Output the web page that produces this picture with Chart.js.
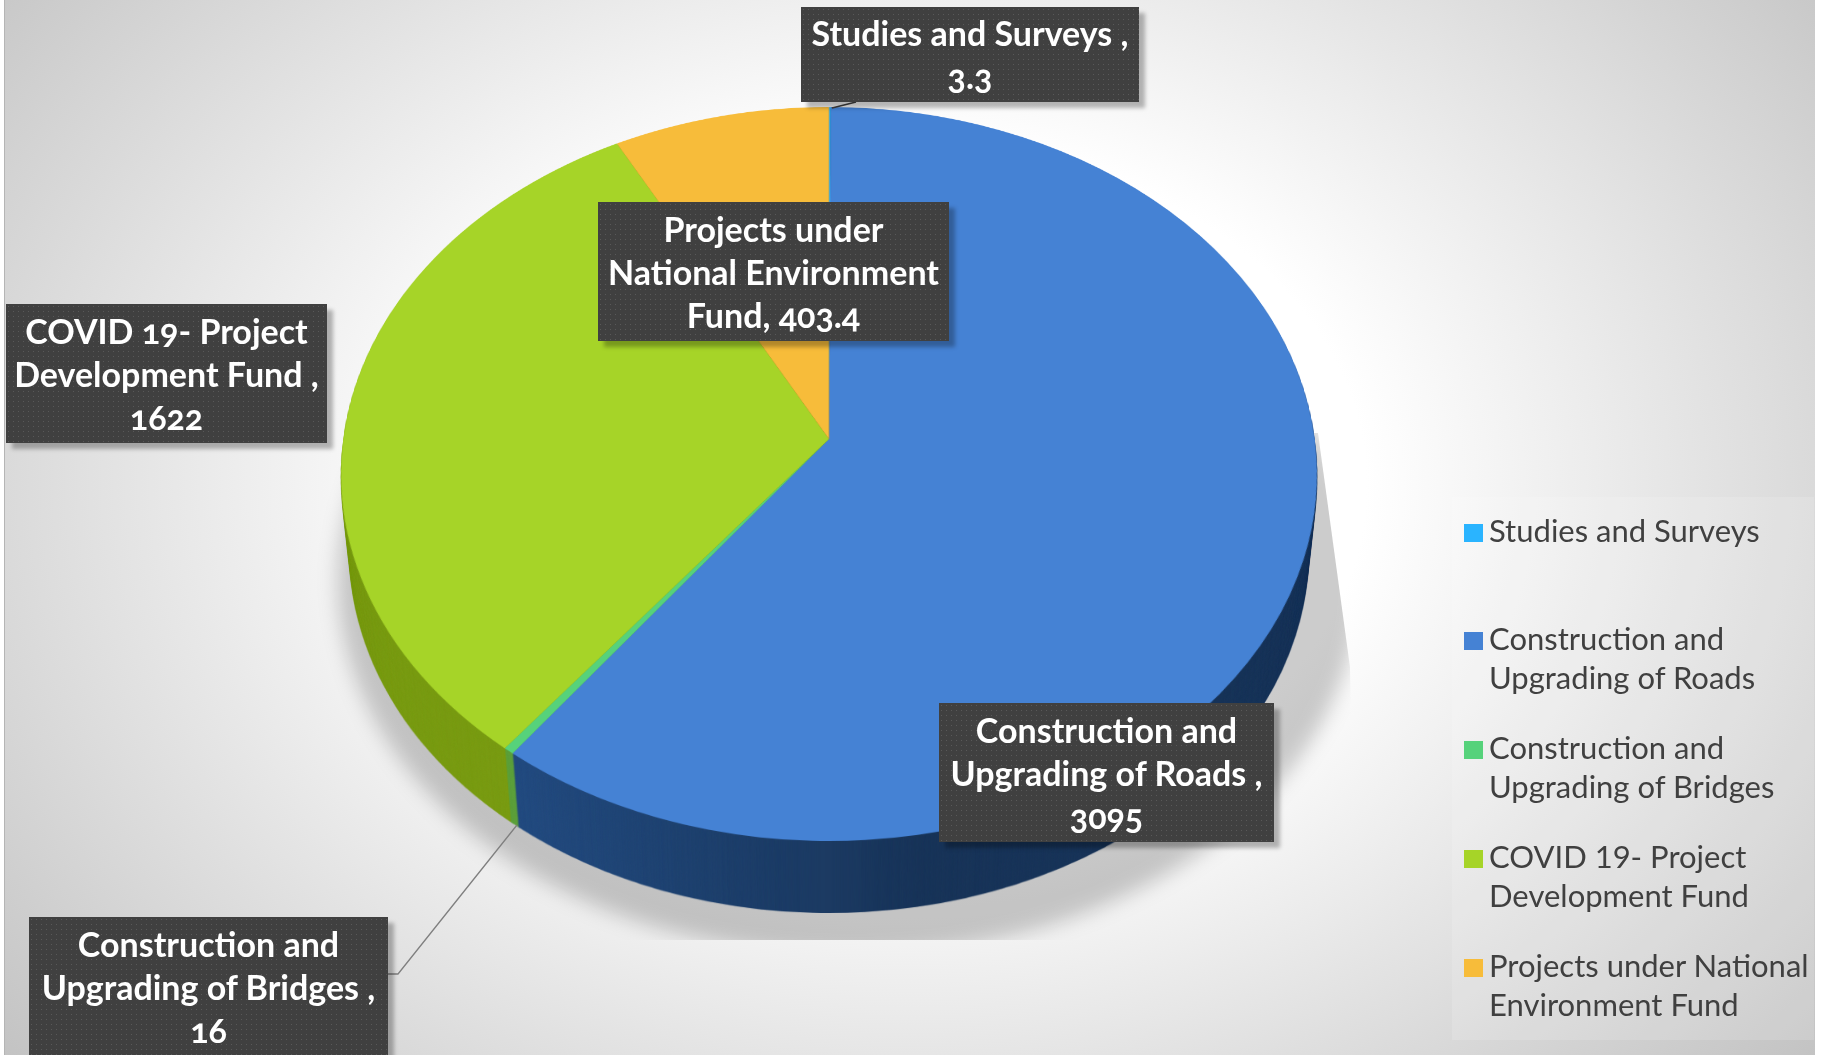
<!DOCTYPE html>
<html>
<head>
<meta charset="utf-8">
<title>Project funding</title>
<script src="https://cdn.jsdelivr.net/npm/chart.js@4"></script>
<style>
    html, body { margin: 0; padding: 0; background: #fff; overflow: hidden; }
    #stage { position: relative; width: 1823px; height: 1055px; overflow: hidden; }
    #bg {
        position: absolute; left: 4px; top: 0; width: 1810px; height: 1055px;
        border-left: 1px solid #b5b5b5;
        background: radial-gradient(ellipse 70% 90% at 50% 46%, #fff 36%, #bcbcbc 100%);
    }
    #pie { position: absolute; left: 0; top: 0; }
    .tag {
        position: absolute; box-sizing: border-box;
        color: #fff; text-align: center; white-space: pre-line;
        font: 700 34px/43px Lato, sans-serif; font-variant-numeric: oldstyle-nums;
        background-color: #404040;
        background-image: radial-gradient(circle, #595959 0.7px, transparent 1px);
        background-size: 5px 5px;
        box-shadow: 6px 6px 4px rgba(0, 0, 0, .28);
    }
    #legend {
        position: absolute; left: 1452px; top: 497px; width: 362px; height: 543px;
        background: rgba(255, 255, 255, .14);
    }
    .key { position: absolute; left: 12px; width: 19px; height: 18px; }
    .txt {
        position: absolute; left: 37px; white-space: pre-line; color: #404040;
        font: 400 31px/39px Lato, sans-serif;
    }
</style>
</head>
<body>
<div id="stage">
    <div id="bg"></div>
    <canvas id="pie" width="1823" height="1055"></canvas>
    <div id="legend"></div>
</div>
<script>
(() => {
    // === DATA ===
    const categories = [
        'Studies and Surveys',
        'Construction and Upgrading of Roads',
        'Construction and Upgrading of Bridges',
        'COVID 19- Project Development Fund',
        'Projects under National Environment Fund'
    ];
    const values = [3.3, 3095, 16, 1622, 403.4];
    const colors = ['#2AB4FF', '#4582D4', '#56D27B', '#A6D428', '#F7BC3A'];
    const wallColors = ['#15608c', '#244C80', '#5da03c', '#7A9C14', '#a07a20'];

    const legendLines = [
        'Studies and Surveys',
        'Construction and\nUpgrading of Roads',
        'Construction and\nUpgrading of Bridges',
        'COVID 19- Project\nDevelopment Fund',
        'Projects under National\nEnvironment Fund'
    ];
    const tagLines = [
        `Studies and Surveys ,\n${values[0]}`,
        `Construction and\nUpgrading of Roads ,\n${values[1]}`,
        `Construction and\nUpgrading of Bridges ,\n${values[2]}`,
        `COVID 19- Project\nDevelopment Fund ,\n${values[3]}`,
        `Projects under\nNational Environment\nFund, ${values[4]}`
    ];

    // boxes: left, top, right, bottom
    const tagBoxes = [
        [801, 7, 1139, 102],
        [939, 703, 1274, 842],
        [29, 917, 388, 1062],
        [6, 304, 327, 443],
        [598, 202, 949, 341]
    ];
    const legendTops = [27, 135, 244, 353, 462];

    // outline of the tilted pie: ellipse plus where the middle of the pie lands
    const oval = { cx: 829, cy: 474, rx: 488, ry: 367, apex: -35, depth: 72 };

    const offscreen = (w, h) => {
        const c = document.createElement('canvas');
        c.width = w;
        c.height = h;
        return c;
    };

    // perspective: every row of the flat round pie is scaled on its own
    const tilt = (src, px, py, R) => {
        const out = offscreen(src.width, src.height);
        const g = out.getContext('2d');
        const k = oval.apex / oval.ry;
        const a = oval.rx * Math.sqrt(1 - k * k);
        for (let Y = -oval.ry; Y < oval.ry; Y++) {
            const v = (Y - oval.apex) / (oval.ry - k * Y);
            const v2 = (Y + 1 - oval.apex) / (oval.ry - k * (Y + 1));
            const sx = a / (1 + k * v);
            g.drawImage(src,
                px - R - 2, py + v * R, 2 * R + 4, Math.max((v2 - v) * R, 1),
                oval.cx - (R + 2) * sx / R, oval.cy + Y, 2 * (R + 2) * sx / R, 1);
        }
        return out;
    };

    const tiltedPie = {
        id: 'tiltedPie',
        afterDatasetsDraw(chart) {
            const ctx = chart.ctx;
            const W = chart.width;
            const H = chart.height;
            const arcs = chart.getDatasetMeta(0).data;
            const { x, y, outerRadius: R } = arcs[0];

            const flat = offscreen(W, H);
            flat.getContext('2d').drawImage(chart.canvas, 0, 0);

            const flatWall = offscreen(W, H);
            arcs.forEach((arc, i) => {
                arc.options.backgroundColor = wallColors[i];
                arc.draw(flatWall.getContext('2d'));
                arc.options.backgroundColor = colors[i];
            });

            const top = tilt(flat, x, y, R);
            const wall = tilt(flatWall, x, y, R);

            // blue part of the wall gets darker to the right
            const wg = wall.getContext('2d');
            const shade = wg.createLinearGradient(520, 0, 1320, 0);
            shade.addColorStop(0, 'rgba(0,0,0,0)');
            shade.addColorStop(0.5, 'rgba(0,0,0,.3)');
            shade.addColorStop(1, 'rgba(0,0,0,.3)');
            wg.globalCompositeOperation = 'source-atop';
            wg.fillStyle = shade;
            wg.fillRect(520, 0, W, H);

            ctx.clearRect(0, 0, W, H);

            // soft shadow, cut off like in the original
            ctx.save();
            ctx.beginPath();
            ctx.moveTo(300, 433);
            ctx.lineTo(1318, 433);
            ctx.lineTo(1350, 667);
            ctx.lineTo(1356, 940);
            ctx.lineTo(300, 940);
            ctx.closePath();
            ctx.clip();
            ctx.filter = 'blur(10px)';
            ctx.fillStyle = 'rgba(0,0,0,.2)';
            ctx.beginPath();
            ctx.ellipse(849, 580, 511, 375, 0, 0, Math.PI * 2);
            ctx.fill();
            ctx.restore();

            // side wall: stack of copies, the lower ones a bit smaller
            const frontY = oval.cy + oval.ry;
            for (let d = oval.depth; d > 0; d--) {
                const s = 1 - 0.018 * d / oval.depth;
                ctx.drawImage(wall, oval.cx * (1 - s), frontY * (1 - s) + d, W * s, H * s);
            }
            ctx.drawImage(top, 0, 0);

            // leader lines
            ctx.strokeStyle = '#7f7f7f';
            ctx.lineWidth = 1.3;
            ctx.beginPath();
            ctx.moveTo(388, 974);
            ctx.lineTo(398, 974);
            ctx.lineTo(517, 825);
            ctx.stroke();
            ctx.strokeStyle = '#404040';
            ctx.beginPath();
            ctx.moveTo(832, 108);
            ctx.lineTo(856, 102);
            ctx.stroke();
        }
    };

    new Chart(document.getElementById('pie').getContext('2d'), {
        type: 'pie',
        data: {
            labels: categories,
            datasets: [{
                data: values,
                backgroundColor: colors,
                borderWidth: 0
            }]
        },
        options: {
            responsive: false,
            animation: false,
            events: [],
            plugins: {
                legend: { display: false },
                tooltip: { enabled: false }
            }
        },
        plugins: [tiltedPie]
    });

    const stage = document.getElementById('stage');
    tagLines.forEach((text, i) => {
        const [l, t, r, b] = tagBoxes[i];
        const d = document.createElement('div');
        d.className = 'tag';
        d.textContent = text;
        d.style.cssText = `left:${l}px;top:${t}px;width:${r - l}px;height:${b - t}px;padding-top:${i === 0 ? 4 : 5}px`;
        stage.appendChild(d);
    });

    const legend = document.getElementById('legend');
    legendLines.forEach((text, i) => {
        const key = document.createElement('div');
        key.className = 'key';
        key.style.top = legendTops[i] + 'px';
        key.style.background = colors[i];
        const txt = document.createElement('div');
        txt.className = 'txt';
        txt.style.top = (legendTops[i] - 13) + 'px';
        txt.textContent = text;
        legend.appendChild(key);
        legend.appendChild(txt);
    });
})();
</script>
</body>
</html>
